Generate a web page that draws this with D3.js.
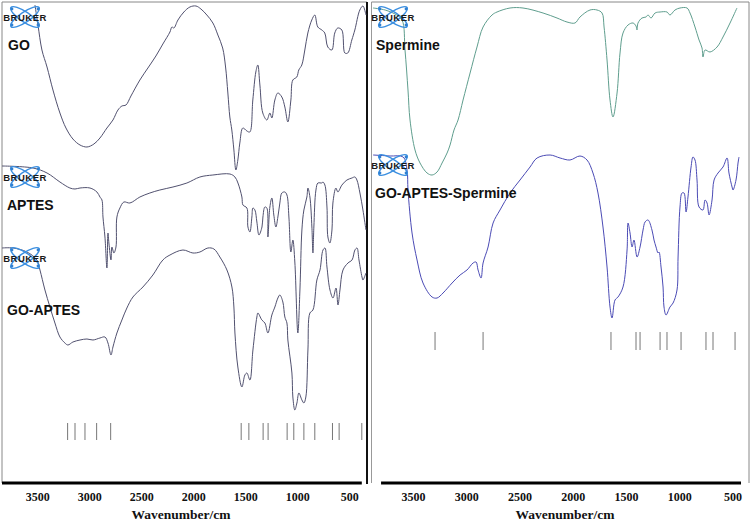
<!DOCTYPE html>
<html><head><meta charset="utf-8">
<script src="https://cdn.jsdelivr.net/npm/d3@7"></script>
<style>body{margin:0;background:#fff}svg{display:block}</style>
</head><body>
<svg id="c" width="752" height="521"></svg>
<script>
// ---------- data (wavenumber cm-1, stacked transmittance a.u.) ----------
const tickValues = [3500, 3000, 2500, 2000, 1500, 1000, 500];
const axisTitle = "Wavenumber/cm";
const leftNames = ["GO", "APTES", "GO-APTES"];
const rightNames = ["Spermine", "GO-APTES-Spermine"];

const goSpectrum = [[3523,239],[3494,229],[3456,216.5],[3407,208],[3350,196.5],[3283,185],[3225,177.5],[3158,172],[3090,169],[3023,168],[2956,169.5],[2898,172.5],[2831,177.5],[2773,181.5],[2725,186.5],[2687,188.5],[2648,189],[2600,193.5],[2514,201.5],[2437,207.5],[2360,213.5],[2293,219.5],[2225,225.5],[2206,228],[2187,227.5],[2148,231.5],[2091,235.5],[2033,238],[1975,238.5],[1927,237],[1870,234],[1812,230],[1764,224],[1718,217.5],[1690,208],[1668,195],[1649,183],[1630,176.5],[1610,166.5],[1591,156.5],[1572,161.5],[1553,170],[1524,177.5],[1485,176],[1457,175.5],[1428,191.5],[1399,205.5],[1380,209],[1360,199],[1332,185],[1293,181.5],[1264,185],[1245,182.5],[1216,191.5],[1187,195],[1149,193],[1120,188],[1091,180.5],[1062,191.5],[1043,201.5],[1005,203],[986,206.5],[957,209],[928,216.5],[899,225],[861,231.5],[832,234],[803,228],[764,226.5],[736,225],[707,218],[668,216.5],[640,225],[611,227.5],[572,226.5],[543,215],[515,215],[476,221.5],[447,226.5],[399,236.5],[369,238.5],[340,234]];

const aptesSpectrum = [[3840,158.5],[3542,157.5],[3407,155],[3283,150.5],[3187,147.5],[3138,147],[3090,147.5],[2994,147.5],[2927,145.5],[2898,143],[2879,141.5],[2869,133],[2850,123],[2831,107.5],[2821,125],[2812,120],[2792,111.5],[2783,118],[2764,115],[2744,118],[2735,133],[2706,137.5],[2668,140.5],[2610,140],[2514,143],[2418,145],[2322,146.5],[2196,148],[2062,150],[1937,153],[1812,154],[1648,154.5],[1600,153],[1571,150],[1533,143],[1523,139],[1485,137.5],[1475,128],[1456,125.5],[1437,133],[1427,137.5],[1408,136.5],[1389,130.5],[1369,124],[1340,128],[1331,133],[1312,138],[1293,137.5],[1283,123],[1264,138],[1245,142.5],[1226,134],[1206,128],[1187,133],[1168,140],[1149,145],[1120,145.5],[1100,144],[1081,133],[1062,115.5],[1043,121.5],[1024,110.5],[995,75],[975,96.5],[956,126.5],[937,136.5],[908,143],[898,147.5],[879,143],[860,128],[850,115],[841,128],[821,146.5],[802,150],[764,150],[754,150.5],[735,149],[715,138],[706,123],[687,120],[667,126.5],[658,140],[629,147.5],[610,145.5],[571,149],[523,151.5],[475,152.5],[446,153],[427,151.5],[398,145],[369,136.5],[340,126.5]];

const goAptesSpectrum = [[3840,117.5],[3734,117.5],[3600,115.5],[3504,111.5],[3475,106.5],[3427,96.5],[3379,88],[3331,80],[3283,73],[3235,70],[3206,69],[3158,70.5],[3090,71.5],[3023,72],[2965,71.5],[2898,72.5],[2850,73],[2821,70],[2792,64],[2773,68],[2735,75],[2687,81.5],[2639,87.5],[2581,93],[2485,98],[2389,104],[2293,111.5],[2225,114],[2100,116.5],[2004,115],[1937,115.5],[1860,117.5],[1802,117],[1745,113],[1677,106.5],[1629,98],[1610,88],[1600,75],[1572,58],[1533,48],[1504,54],[1485,55],[1456,51.5],[1427,66.5],[1389,83],[1379,85],[1341,81.5],[1312,80],[1283,75],[1245,84],[1216,88],[1187,92.5],[1168,94],[1139,90.5],[1120,83],[1100,80],[1091,71.5],[1052,55],[1043,43],[1024,36.5],[1004,40],[985,45],[956,41.5],[937,40],[918,43],[898,66.5],[879,85],[850,86.5],[812,101.5],[782,106.5],[753,116.5],[734,117.5],[715,108],[686,96.5],[657,92.5],[628,97.5],[609,89],[590,96.5],[561,106.5],[513,110],[474,111.5],[446,116.5],[426,117.5],[407,111.5],[378,103],[369,101.5],[340,105]];

const spermineSpectrum = [[3875,237.5],[3762,236.5],[3669,234.5],[3603,231.5],[3575,216.5],[3547,196.5],[3528,181.5],[3481,166.5],[3434,160],[3368,155],[3321,154],[3274,155.5],[3227,160],[3180,165],[3152,169],[3115,176.5],[3077,181.5],[3030,191.5],[2964,205],[2899,218],[2842,228],[2758,234],[2711,235.5],[2589,237.5],[2467,237.5],[2279,235],[2148,232.5],[2054,230.5],[1979,230],[1932,233],[1838,236.5],[1772,236.5],[1725,235],[1706,228],[1678,211.5],[1650,191.5],[1622,183],[1584,195],[1556,215],[1528,225],[1481,229],[1434,230],[1406,228.5],[1397,226.5],[1387,230],[1350,232.5],[1312,233],[1293,234],[1265,232.5],[1227,235],[1180,235.5],[1115,235.5],[1087,234],[1040,236.5],[993,237.5],[927,237.5],[899,235],[852,228],[814,221.5],[786,217.5],[777,213],[758,216.5],[711,215.5],[645,218],[589,223],[523,230],[458,237.5]];

const goAptesSpermineSpectrum = [[3875,164],[3716,163.5],[3593,163],[3556,156.5],[3547,146.5],[3509,125],[3462,111.5],[3406,100],[3321,93],[3274,92.5],[3218,95],[3133,100],[3058,104],[2993,106.5],[2936,110],[2908,110.5],[2889,106.5],[2861,102.5],[2842,110],[2795,118],[2748,130],[2683,136.5],[2589,145],[2495,151.5],[2401,158],[2335,162.5],[2213,164],[2119,162.5],[2026,161.5],[1932,163.5],[1866,161.5],[1810,155],[1763,145],[1716,128],[1678,108],[1650,88],[1631,82.5],[1603,91.5],[1575,93],[1528,98],[1490,116.5],[1481,130],[1462,125],[1443,118],[1425,121.5],[1396,113],[1368,118],[1340,126.5],[1321,130.5],[1293,131.5],[1256,126.5],[1237,121.5],[1218,118],[1199,115],[1190,115.5],[1171,108],[1152,98],[1143,88],[1124,84],[1087,88],[1058,90],[1021,96.5],[1011,113],[993,138],[974,145],[955,145],[936,135.5],[918,143],[889,158],[871,163],[852,161.5],[833,151.5],[814,138],[777,136.5],[758,141.5],[739,140],[720,134],[692,141.5],[673,151.5],[636,155],[589,158],[551,162.5],[533,155],[504,148],[495,146.5],[467,151.5],[448,160],[439,163]];

const leftPeaks = [3209,3138,3042,2930,2795,1540,1466,1329,1281,1098,1034,937,832,662,598,380];
const rightPeaks = [3293,2842,1641,1406,1368,1180,1115,983,749,683,476];

// ---------- layout ----------
const svg = d3.select("#c");
const axisY = 483;
const y = d3.scaleLinear().domain([0, 240]).range([axisY, 3]);

const xL = d3.scaleLinear().domain([3840, 330]).range([2, 367]);
const xR = d3.scaleLinear().domain([3885, 345]).range([372, 749]);

const lineColor = "#51516f";
const spermColor = "#5f9e8e";
const gasColor = "#4b4bb5";

// frames
svg.append("line").attr("x1",2).attr("x2",2).attr("y1",2).attr("y2",axisY).attr("stroke","#888").attr("stroke-width",1);
svg.append("line").attr("x1",2).attr("x2",367).attr("y1",2).attr("y2",2).attr("stroke","#888").attr("stroke-width",1);
svg.append("line").attr("x1",367).attr("x2",367).attr("y1",2).attr("y2",axisY+1).attr("stroke","#111").attr("stroke-width",2);
svg.append("line").attr("x1",371.5).attr("x2",371.5).attr("y1",2).attr("y2",axisY).attr("stroke","#999").attr("stroke-width",1);
svg.append("line").attr("x1",371.5).attr("x2",749).attr("y1",2).attr("y2",2).attr("stroke","#888").attr("stroke-width",1);
svg.append("line").attr("x1",749).attr("x2",749).attr("y1",2).attr("y2",axisY).attr("stroke","#888").attr("stroke-width",1);

// logos
function logo(cx, cy) {
  const g = svg.append("g").attr("transform", `translate(${cx},${cy})`);
  [34, -34].forEach(a => {
    g.append("ellipse").attr("rx", 17).attr("ry", 5).attr("fill", "none")
      .attr("stroke", "#3b8fe0").attr("stroke-width", 1.4).attr("transform", `rotate(${a})`);
  });
  [[-13,-8],[13,8],[-13,8],[13,-8]].forEach(p => {
    g.append("circle").attr("cx", p[0]).attr("cy", p[1]).attr("r", 1.4).attr("fill", "#2f7fd0");
  });
  g.append("text").text("BRUKER").attr("x", 0).attr("y", 3.5).attr("text-anchor", "middle")
    .attr("font-family", "Liberation Sans, Arial, sans-serif").attr("font-weight", "bold")
    .attr("font-size", 9.5).attr("letter-spacing", 0.5).attr("fill", "#1a1a1a");
}

// curves
const mk = xs => d3.line().x(d => xs(d[0])).y(d => y(d[1])).curve(d3.curveCatmullRom.alpha(0.5));
function curve(data, xs, color) {
  svg.append("path").datum(data).attr("d", mk(xs)).attr("fill", "none")
    .attr("stroke", color).attr("stroke-width", 1).attr("stroke-linejoin", "round");
}
curve(goSpectrum, xL, lineColor);
curve(aptesSpectrum, xL, lineColor);
curve(goAptesSpectrum, xL, lineColor);
curve(spermineSpectrum, xR, spermColor);
curve(goAptesSpermineSpectrum, xR, gasColor);

logo(25, 17); logo(25, 177); logo(25, 258);
logo(393, 17); logo(393, 165);

// labels
const labelFont = "Liberation Sans, Arial, sans-serif";
const labelPos = [[8, 50], [7, 210], [7, 315]];
leftNames.forEach((n, i) => svg.append("text").text(n).attr("x", labelPos[i][0]).attr("y", labelPos[i][1])
  .attr("font-family", labelFont).attr("font-weight", "bold").attr("font-size", 14).attr("fill", "#111"));
const rLabelPos = [[376, 50], [375, 198]];
rightNames.forEach((n, i) => svg.append("text").text(n).attr("x", rLabelPos[i][0]).attr("y", rLabelPos[i][1])
  .attr("font-family", labelFont).attr("font-weight", "bold").attr("font-size", 14).attr("fill", "#111"));

// peak markers
svg.append("g").selectAll("line").data(leftPeaks).join("line")
  .attr("x1", d => xL(d)).attr("x2", d => xL(d)).attr("y1", 423).attr("y2", 440)
  .attr("stroke", "#777").attr("stroke-width", 1);
svg.append("g").selectAll("line").data(rightPeaks).join("line")
  .attr("x1", d => xR(d)).attr("x2", d => xR(d)).attr("y1", 332).attr("y2", 350)
  .attr("stroke", "#777").attr("stroke-width", 1);

// axes
function axis(xs, from, to, titleX) {
  const g = svg.append("g").attr("transform", `translate(0,${axisY})`)
    .call(d3.axisBottom(xs).tickValues(tickValues).tickSize(0).tickPadding(9).tickFormat(d3.format("d")));
  g.select(".domain").remove();
  g.selectAll("text").attr("font-family", "Liberation Serif, Times New Roman, serif")
    .attr("font-weight", "bold").attr("font-size", 12).attr("fill", "#111");
  svg.append("line").attr("x1", xs(from)).attr("x2", xs(to)).attr("y1", axisY).attr("y2", axisY)
    .attr("stroke", "#000").attr("stroke-width", 3);
  svg.append("text").text(axisTitle).attr("x", titleX).attr("y", 519).attr("text-anchor", "middle")
    .attr("font-family", "Liberation Serif, Times New Roman, serif").attr("font-weight", "bold")
    .attr("font-size", 13.5).attr("fill", "#111");
}
axis(xL, 3840, 380, 181);
axis(xR, 3800, 420, 565);
</script>
</body></html>
